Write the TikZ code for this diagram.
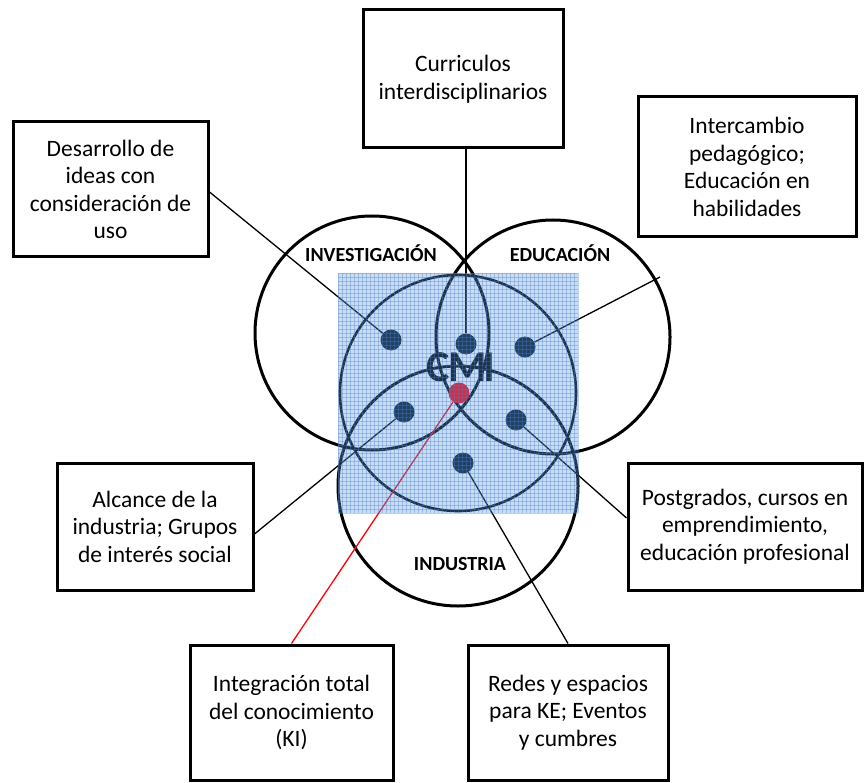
\documentclass[tikz,border=0pt]{standalone}
\usepackage{fontspec}
\setmainfont{Carlito}
\definecolor{dotnavy}{RGB}{8,22,40}
\definecolor{veil}{RGB}{95,150,215}
\definecolor{veilgrid}{RGB}{60,130,210}
\definecolor{kired}{RGB}{255,0,10}
\begin{document}
\begin{tikzpicture}[x=1pt,y=-1pt,
  ring/.style={draw=black, line width=3pt},
  boxnode/.style={draw=black, line width=3pt, fill=white, align=center,
    inner sep=0pt, font=\fontsize{23.5}{27.5}\selectfont},
  dotnode/.style={circle, fill=dotnavy, minimum size=21pt, inner sep=0pt},
  link/.style={draw=black, line width=1.3pt},
  setlabel/.style={font=\bfseries\fontsize{20}{24}\selectfont},
  gridline/.style={draw=veilgrid, line width=0.8pt, opacity=0.35}
]
\useasboundingbox (0,0) rectangle (866,783);

% the three sets and the central circle
\draw[ring] (372,333) circle[radius=117pt];
\draw[ring] (553,337) circle[radius=117pt];
\draw[ring] (458,486) circle[radius=120pt];
\draw[draw=black, line width=2.6pt] (458,393) circle[radius=118pt];

% set names
\node[setlabel] (lInv) at (371,253) {INVESTIGACIÓN};
\node[setlabel] (lEdu) at (560,253) {EDUCACIÓN};
\node[setlabel] (lInd) at (460,564) {INDUSTRIA};

% description boxes
\node[boxnode, minimum width=200pt, minimum height=138pt] (bCur) at (463,79)
  {Curriculos\\interdisciplinarios};
\node[boxnode, minimum width=195pt, minimum height=135pt] (bDes) at (110.5,189.5)
  {Desarrollo de\\ideas con\\consideración de\\uso};
\node[boxnode, minimum width=218pt, minimum height=140pt] (bInt) at (747,167)
  {Intercambio\\pedagógico;\\Educación en\\habilidades};
\node[boxnode, minimum width=196pt, minimum height=127pt] (bAlc) at (155,526.5)
  {Alcance de la\\industria; Grupos\\de interés social};
\node[boxnode, minimum width=234pt, minimum height=127pt] (bPos) at (745,526.5)
  {Postgrados, cursos en\\emprendimiento,\\educación profesional};
\node[boxnode, minimum width=203pt, minimum height=135pt] (bKI) at (291.5,712.5)
  {Integración total\\del conocimiento\\(KI)};
\node[boxnode, minimum width=200pt, minimum height=135pt] (bRed) at (568,712.5)
  {Redes y espacios\\para KE; Eventos\\y cumbres};

% markers inside the sets
\node[dotnode] (dDes) at (391,340) {};
\node[dotnode] (dCur) at (466,344) {};
\node[dotnode] (dInt) at (525,347) {};
\node[dotnode] (dAlc) at (404,412) {};
\node[dotnode] (dPos) at (516,420) {};
\node[dotnode] (dRed) at (463,463) {};

% connectors
\coordinate (cInt) at (660,277);
\draw[link] ([yshift=-2.5pt]bDes.east) -- (dDes);
\draw[link] (bCur.south -| dCur) -- (dCur);
\draw[link] (cInt) -- (dInt);
\draw[link] ([yshift=-7.5pt]bAlc.east) -- (dAlc);
\draw[link] ([yshift=8.5pt]bPos.west) -- (dPos);
\draw[link] (bRed.north) -- (dRed);

% CMI core
\node[font=\bfseries\fontsize{44}{48}\selectfont, text=black, inner sep=0pt] (cmi) at (461,367) {C\kern-2ptM\kern-3ptI};
\node[circle, fill=kired, minimum size=21pt, inner sep=0pt] (dKI) at (459,393) {};
\draw[draw=kired, line width=1.3pt] (bKI.north) -- (dKI);

% translucent gridded square
\fill[veil, opacity=0.33] (338,273) rectangle (578,513);
\foreach \k in {0,...,60} {
  \draw[gridline] (338+4*\k,273) -- (338+4*\k,513);
  \draw[gridline] (338,273+4*\k) -- (578,273+4*\k);
}
\end{tikzpicture}
\end{document}
